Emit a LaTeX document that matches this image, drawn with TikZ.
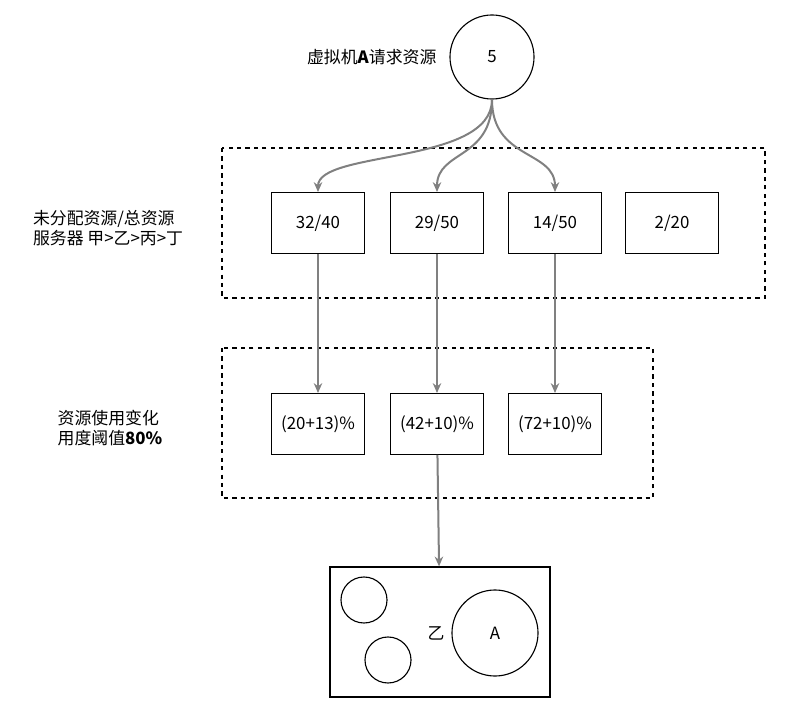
\documentclass[tikz,border=0pt]{standalone}
\usepackage{fontspec}
\setmainfont{Noto Sans CJK SC}
\usetikzlibrary{positioning,arrows.meta}
\begin{document}
\begin{tikzpicture}
[x=0.025cm,y=-0.025cm,
edge/.style={-{Stealth[length=7pt,width=6pt]}, draw=gray, line width=.5mm},
block/.style={draw=black,thick,minimum width=2.32cm,minimum height=1.52cm,font=\large},
group/.style={draw=black,thick,dashed},
ball/.style={draw=black,thick,circle,inner sep=0pt}]
\useasboundingbox (0,0) rectangle (788,720);
\node (req) [ball,minimum size=2.1cm,font=\large] at (492,57) {5};
\node (reqText) [left=0.2cm of req,font=\large] {虚拟机\textbf{\textit{A}}请求资源};
%%
\draw[group] (222,148) rectangle (765,298);
\node (s1) [block] at (318,223) {32/40};
\node (s2) [block] at (437,223) {29/50};
\node (s3) [block] at (555,223) {14/50};
\node (s4) [block] at (672,223) {2/20};
\node (lab1) [font=\large,align=left] at (108,228) {未分配资源/总资源\\服务器 甲>乙>丙>丁};
%%
\draw[edge] (req.south) .. controls (492,165) and (318,150) .. (s1.north);
\draw[edge] (req.south) .. controls (492,160) and (437,150) .. (s2.north);
\draw[edge] (req.south) .. controls (492,160) and (555,150) .. (s3.north);
%%
\draw[group] (222,348) rectangle (653,498);
\node (u1) [block] at (318,424) {(20+13)\%};
\node (u2) [block] at (437,424) {(42+10)\%};
\node (u3) [block] at (555,424) {(72+10)\%};
\node (lab2) [font=\large,align=left] at (110,428) {资源使用变化\\用度阈值\textbf{80\%}};
%%
\draw[edge] (s1) -- (u1);
\draw[edge] (s2) -- (u2);
\draw[edge] (s3) -- (u3);
%%
\node (host) [draw=black,thick,minimum width=5.5cm,minimum height=3.25cm] at (440,632) {};
\node (c1) [ball,minimum size=1.15cm] at (364,600) {};
\node (c2) [ball,minimum size=1.15cm] at (388,660) {};
\node (vmA) [ball,minimum size=2.15cm,font=\large] at (495,633) {A};
\node (yi) [left=0.05cm of vmA,font=\large] {乙};
\draw[edge] (u2) -- (host);
\end{tikzpicture}
\end{document}
